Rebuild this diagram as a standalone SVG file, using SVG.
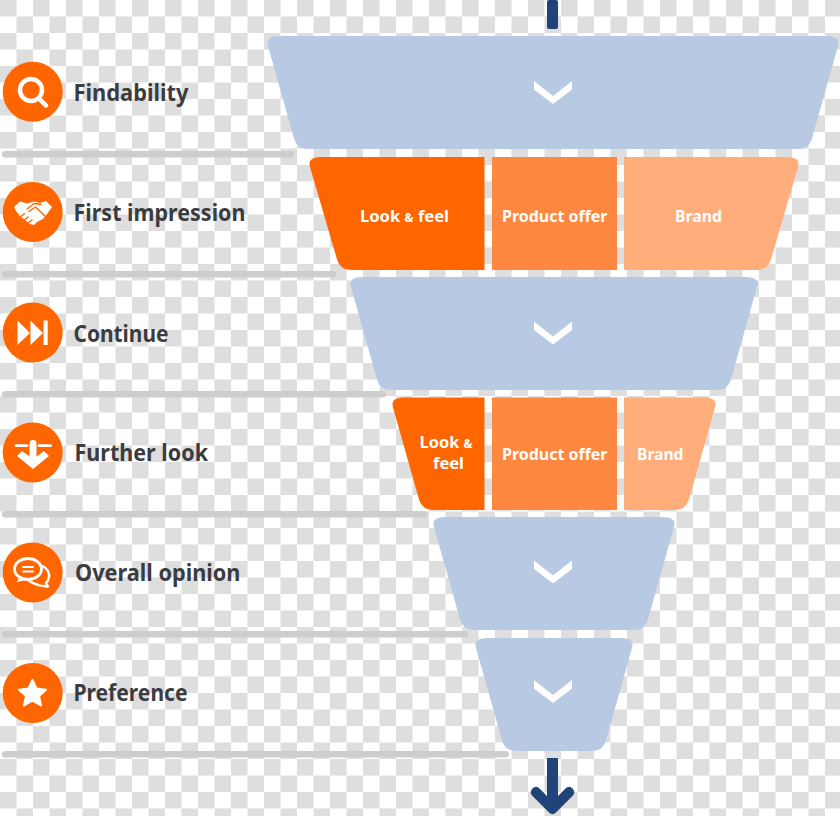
<svg xmlns="http://www.w3.org/2000/svg" width="840" height="816" viewBox="0 0 840 816">
<style>
.lbl{font-family:"Noto Sans","Liberation Sans",sans-serif;font-weight:700;font-size:23px;fill:#3b3c40}
.in{font-family:"Noto Sans","Liberation Sans",sans-serif;font-weight:700;font-size:16.5px;fill:#fff}
.amp{font-size:12px}
.blue{fill:#b7c9e3}
.o1{fill:#ff6600}
.o2{fill:#ff8840}
.o3{fill:#ffad7a}
.chev{fill:#fff}
.sep{fill:#cdcdcd}
.ic{fill:#fff}
.ics{fill:none;stroke:#fff;stroke-linecap:round;stroke-linejoin:round}
.cut{fill:none;stroke:#ff6600;stroke-width:1.400;stroke-linecap:round;stroke-linejoin:round}
.conn{fill:#204479}
</style>
<defs>
<pattern id="chk" width="33" height="33" patternUnits="userSpaceOnUse">
<rect width="33" height="33" fill="#fff"/>
<rect width="16.5" height="16.5" fill="#dedede"/>
<rect x="16.5" y="16.5" width="16.5" height="16.5" fill="#dedede"/>
</pattern>
<path id="chevron" d="M-19-11.500 0 3.500 19-11.500V-3L0 11.500-19-3Z"/>
<circle id="disc" r="30" class="o1"/>
</defs>
<rect id="background" width="840" height="816" fill="url(#chk)"/>

<g id="connectors">
<rect class="conn" x="547" y="0" width="11" height="29" rx="2"/>
<path class="conn" d="M547 758H558V796L565 789Q569 785 572.500 788.500Q576 792 572.500 796L556 812.500Q552.500 816 549 812.500L532.500 796Q529 792 532.500 788.500Q536 785 540 789L547 796Z"/>
<rect class="sep" x="2" y="151" width="292" height="6.500" rx="3"/>
<rect class="sep" x="2" y="271" width="334" height="6.500" rx="3"/>
<rect class="sep" x="2" y="391" width="384" height="6.500" rx="3"/>
<rect class="sep" x="2" y="511" width="425" height="6.500" rx="3"/>
<rect class="sep" x="2" y="631" width="466" height="6.500" rx="3"/>
<rect class="sep" x="2" y="751" width="507" height="6.500" rx="3"/>
</g>

<g id="funnel-1">
<path class="blue" d="M279 36H827Q841 36 838 46L811.800 139Q809 149 797 149H309Q297 149 294.200 139L268 46Q265 36 279 36Z"/>
<use href="#chevron" class="chev" x="553" y="92.500"/>
</g>

<g id="funnel-2">
<path class="o1" d="M484.500 157V270H352Q340 270 337.200 260L310 167Q307 157 321 157Z"/>
<path class="o2" d="M492 157H617V270H492Z"/>
<path class="o3" d="M624 157H787Q801 157 798 167L770.800 260Q768 270 756 270H624Z"/>
<text class="in" x="360" y="222" textLength="89" lengthAdjust="spacingAndGlyphs">Look <tspan class="amp">&amp;</tspan> feel</text>
<text class="in" x="502" y="222" textLength="105.500" lengthAdjust="spacingAndGlyphs">Product offer</text>
<text class="in" x="675" y="222" textLength="47" lengthAdjust="spacingAndGlyphs">Brand</text>
</g>

<g id="funnel-3">
<path class="blue" d="M362 277H746Q760 277 757 287L730.800 380Q728 390 716 390H392Q380 390 377.200 380L351 287Q348 277 362 277Z"/>
<use href="#chevron" class="chev" x="553" y="333"/>
</g>

<g id="funnel-4">
<path class="o1" d="M484.500 397.500V510H434Q422 510 419.200 500L393 407.500Q390 397.500 404 397.500Z"/>
<path class="o2" d="M492 397.500H617V510H492Z"/>
<path class="o3" d="M624 397.500H704Q718 397.500 715 407.500L688.800 500Q686 510 674 510H624Z"/>
<text class="in" x="419.500" y="448" textLength="53" lengthAdjust="spacingAndGlyphs">Look <tspan class="amp">&amp;</tspan></text>
<text class="in" x="433" y="469" textLength="31" lengthAdjust="spacingAndGlyphs">feel</text>
<text class="in" x="502" y="460" textLength="105.500" lengthAdjust="spacingAndGlyphs">Product offer</text>
<text class="in" x="637" y="460" textLength="46.500" lengthAdjust="spacingAndGlyphs">Brand</text>
</g>

<g id="funnel-5">
<path class="blue" d="M445 517H663Q677 517 674 527L647.800 620Q645 630 633 630H475Q463 630 460.200 620L434 527Q431 517 445 517Z"/>
<use href="#chevron" class="chev" x="553" y="572"/>
</g>

<g id="funnel-6">
<path class="blue" d="M487 638H621Q635 638 632 648L605.800 741Q603 751 591 751H517Q505 751 502.200 741L476 648Q473 638 487 638Z"/>
<use href="#chevron" class="chev" x="553" y="691.500"/>
</g>

<g id="stage-findability">
<use href="#disc" x="32.700" y="91.700"/>
<circle class="ics" cx="31" cy="90" r="11" stroke-width="4.500"/>
<path class="ics" d="M39 98.500L46 105.500" stroke-width="4.500"/>
<text class="lbl" x="73.500" y="100.500" textLength="115" lengthAdjust="spacingAndGlyphs">Findability</text>
</g>

<g id="stage-first-impression">
<use href="#disc" x="32.700" y="212"/>
<path class="ic" d="M14 207L20 201.500L27 203.500L34 201.500L40 203L46 201L52 207L47 214L43 219L37 222L34 225L30 224L20 216L16 211Z"/>
<path class="cut" d="M27 209L34 203.500L41 204.500M29 211.500L35.500 207L45.500 216.500M21 216.500L24.500 213.500M24.500 220L28 217M28.500 223L32 220"/>
<text class="lbl" x="73.500" y="221" textLength="172" lengthAdjust="spacingAndGlyphs">First impression</text>
</g>

<g id="stage-continue">
<use href="#disc" x="32.700" y="332.500"/>
<path class="ic" d="M17.500 320.500L30 333L17.500 345ZM30.500 320.500L43 333L30.500 345ZM43.500 320.500H47.700V345H43.500Z"/>
<text class="lbl" x="73.500" y="341.500" textLength="95" lengthAdjust="spacingAndGlyphs">Continue</text>
</g>

<g id="stage-further-look">
<use href="#disc" x="32.700" y="452.500"/>
<path class="ics" d="M16 445.700H27M39 445.700H50.500" stroke-width="2.800"/>
<path class="ic" d="M29.500 443Q29.500 440 33 440Q36.500 440 36.500 443V456.500L44 451L49 456L33 469L17 456L22 451L29.500 456.500Z"/>
<text class="lbl" x="74.500" y="461" textLength="133.500" lengthAdjust="spacingAndGlyphs">Further look</text>
</g>

<g id="stage-overall-opinion">
<use href="#disc" x="32.700" y="572.500"/>
<path class="ics" d="M42.500 566Q50 570 49 577Q48.500 581 46 583L48 586.500Q40 586 37 584.500" stroke-width="2.500"/>
<path class="ics" d="M37 584.500Q32 583 28 580" stroke-width="2.500"/>
<ellipse class="ics" cx="28" cy="569" rx="13.500" ry="10.500" stroke-width="2.800"/>
<path class="ic" d="M19 577L17 582L26 580Z"/>
<path class="ics" d="M23 567H33M23 571.500H33" stroke-width="2"/>
<text class="lbl" x="75" y="581" textLength="165.500" lengthAdjust="spacingAndGlyphs">Overall opinion</text>
</g>

<g id="stage-preference">
<use href="#disc" x="32.700" y="693"/>
<path class="ic" stroke="#fff" stroke-width="2" stroke-linejoin="round" d="M32.500 680L36.500 688.500L46 689.700L39 696L41 705.500L32.500 700.700L24 705.500L26 696L19 689.700L28.500 688.500Z"/>
<text class="lbl" x="73.500" y="701" textLength="114" lengthAdjust="spacingAndGlyphs">Preference</text>
</g>
</svg>
